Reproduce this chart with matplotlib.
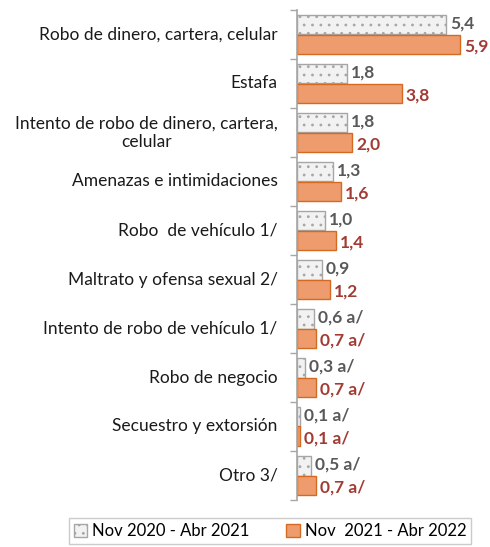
import matplotlib
matplotlib.use("Agg")
import matplotlib.pyplot as plt
from matplotlib.patches import Patch

categories = ["Robo de dinero, cartera, celular", "Estafa",
              "Intento de robo de dinero, cartera,\ncelular",
              "Amenazas e intimidaciones", "Robo  de vehículo 1/",
              "Maltrato y ofensa sexual 2/", "Intento de robo de vehículo 1/",
              "Robo de negocio", "Secuestro y extorsión", "Otro 3/"]
s1 = [5.4, 1.8, 1.8, 1.3, 1.0, 0.9, 0.6, 0.3, 0.1, 0.5]
s2 = [5.9, 3.8, 2.0, 1.6, 1.4, 1.2, 0.7, 0.7, 0.1, 0.7]
lab1 = ["5,4", "1,8", "1,8", "1,3", "1,0", "0,9", "0,6 a/", "0,3 a/", "0,1 a/", "0,5 a/"]
lab2 = ["5,9", "3,8", "2,0", "1,6", "1,4", "1,2", "0,7 a/", "0,7 a/", "0,1 a/", "0,7 a/"]
series_names = ["Nov 2020 - Abr 2021", "Nov  2021 - Abr 2022"]

plt.rcParams['font.family'] = ['Lato', 'DejaVu Sans']
plt.rcParams['hatch.color'] = '#404040'
plt.rcParams['hatch.linewidth'] = 0.8

fig = plt.figure(figsize=(4.9, 5.47), dpi=100)
W, H = 490, 547
ax = fig.add_axes([297 / W, (H - 500) / H, 193 / W, 490 / H])

n = len(categories)
bh = 0.40
ys = list(range(n))
y1 = [i - bh / 2 for i in ys]
y2 = [i + bh / 2 for i in ys]
ax.barh(y1, s1, height=bh, color='#F2F2F2', edgecolor='#A6A6A6', hatch='..', linewidth=1.0)
ax.barh(y2, s2, height=bh, color='#EE9C6E', edgecolor='#D46A22', linewidth=1.0)

off = 0.15
for i in ys:
    ax.text(s1[i] + off, y1[i] - 0.02, lab1[i], va='center', ha='left', fontsize=12.5,
            color='#595959', fontweight='bold')
    ax.text(s2[i] + off, y2[i] + 0.05, lab2[i], va='center', ha='left', fontsize=12.5,
            color='#A33B35', fontweight='bold')
    ax.annotate(categories[i], xy=(0, i), xycoords=('axes fraction', 'data'),
                xytext=(-14, 0), textcoords='offset points', ha='right', va='center',
                multialignment='center', fontsize=12.5, color='#1a1a1a')

ax.set_xlim(0, 7)
ax.set_ylim(n - 0.5, -0.5)
ax.set_xticks([])
ax.set_yticks([i - 0.5 for i in range(n + 1)])
ax.set_yticklabels([])
ax.tick_params(axis='y', which='major', length=5, color='#A6A6A6', width=1)
for s in ['top', 'right', 'bottom']:
    ax.spines[s].set_visible(False)
ax.spines['left'].set_color('#A6A6A6')
ax.spines['left'].set_linewidth(1.2)

handles = [Patch(facecolor='#F2F2F2', edgecolor='#A6A6A6', hatch='..', label=series_names[0]),
           Patch(facecolor='#EE9C6E', edgecolor='#D46A22', label=series_names[1])]
leg = fig.legend(handles=handles, loc='lower center', bbox_to_anchor=(270 / W, 1 / H),
                 ncol=2, fontsize=12, frameon=True, fancybox=False, edgecolor='#BFBFBF',
                 handlelength=0.8, handleheight=0.8, handletextpad=0.3, columnspacing=2.2,
                 borderpad=0.3, borderaxespad=0.1)
leg.get_frame().set_linewidth(1.0)

fig.savefig("out.png", dpi=100)
